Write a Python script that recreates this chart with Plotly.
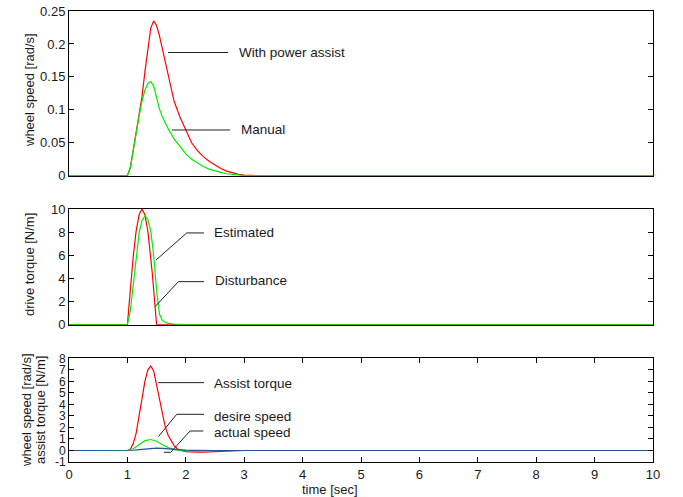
import plotly.graph_objects as go

# ---------------- data ----------------
# top panel: wheel speed [rad/s]
t_assist = [0, 0.9, 1.0, 1.05, 1.10, 1.15, 1.20, 1.25, 1.30, 1.35, 1.40, 1.45, 1.50, 1.55,
            1.60, 1.65, 1.70, 1.75, 1.80, 1.90, 2.00, 2.10, 2.20, 2.30, 2.40, 2.50, 2.60,
            2.70, 2.80, 2.90, 3.00, 3.20, 10]
v_assist = [0, 0, 0, 0.012, 0.040, 0.066, 0.090, 0.120, 0.158, 0.195, 0.224, 0.235, 0.228, 0.212,
            0.192, 0.171, 0.151, 0.131, 0.113, 0.089, 0.069, 0.050, 0.038, 0.029, 0.022, 0.016,
            0.011, 0.007, 0.004, 0.002, 0.001, 0, 0]

t_manual = [0, 0.9, 1.0, 1.05, 1.10, 1.15, 1.20, 1.25, 1.30, 1.35, 1.40, 1.45, 1.50, 1.55,
            1.60, 1.70, 1.80, 1.90, 2.00, 2.10, 2.20, 2.30, 2.40, 2.50, 2.60, 2.70, 2.80,
            3.00, 10]
v_manual = [0, 0, 0, 0.012, 0.040, 0.066, 0.090, 0.113, 0.130, 0.140, 0.143, 0.136, 0.119, 0.101,
            0.089, 0.071, 0.056, 0.044, 0.033, 0.025, 0.019, 0.014, 0.010, 0.007, 0.005, 0.003,
            0.002, 0, 0]

# middle panel: drive torque [N/m]
t_dist = [0, 1.0, 1.025, 1.05, 1.075, 1.10, 1.15, 1.20, 1.25, 1.30, 1.35, 1.40, 1.425,
          1.45, 1.475, 1.50, 10]
v_dist = [0, 0, 1.5, 3.0, 4.5, 5.9, 8.1, 9.5, 10.0, 9.5, 8.1, 5.9, 4.5,
          3.0, 1.5, 0, 0]

t_est = [0, 1.0, 1.05, 1.10, 1.15, 1.20, 1.25, 1.30, 1.35, 1.40, 1.45, 1.50, 1.55,
         1.60, 1.65, 1.70, 1.80, 2.00, 10]
v_est = [0, 0, 1.2, 3.6, 6.0, 7.9, 9.0, 9.4, 9.1, 8.1, 6.0, 3.0, 0.9,
         0.35, 0.2, 0.12, 0.05, 0.01, 0]

# bottom panel: assist torque [N/m], wheel speeds [rad/s]
t_torque = [0, 1.0, 1.05, 1.10, 1.15, 1.20, 1.25, 1.30, 1.35, 1.40, 1.45, 1.50, 1.55, 1.60,
            1.65, 1.70, 1.75, 1.80, 1.85, 1.90, 2.00, 2.10, 2.20, 2.30, 2.40, 2.60, 2.80,
            3.00, 10]
v_torque = [0, 0, 0.1, 0.6, 1.5, 2.9, 4.6, 6.0, 7.0, 7.33, 6.9, 5.7, 4.3, 3.0,
            2.0, 1.3, 0.8, 0.42, 0.17, 0.02, -0.1, -0.14, -0.15, -0.14, -0.12, -0.07, -0.03,
            0, 0]

t_desire = [0, 1.0, 1.1, 1.2, 1.3, 1.4, 1.5, 1.6, 1.7, 1.8, 1.9, 2.0, 2.3, 2.6, 10]
v_desire = [0, 0, 0.15, 0.5, 0.85, 0.95, 0.8, 0.5, 0.25, 0.08, 0, -0.03, -0.03, 0, 0]

t_actual = [0, 1.0, 1.1, 1.2, 1.3, 1.4, 1.5, 1.6, 1.7, 1.8, 1.9, 2.0, 2.2, 2.5, 10]
v_actual = [0, 0, 0.02, 0.07, 0.13, 0.18, 0.20, 0.19, 0.15, 0.10, 0.06, 0.03, 0.01, 0, 0]

x_ticks = [0, 1, 2, 3, 4, 5, 6, 7, 8, 9, 10]
y1_ticks = [0, 0.05, 0.1, 0.15, 0.2, 0.25]
y2_ticks = [0, 2, 4, 6, 8, 10]
y3_ticks = [-1, 0, 1, 2, 3, 4, 5, 6, 7, 8]
y3_labels = ["-1", "0", "1", "2", "3", "4", "5", "6", "7", "8"]

RED, GREEN, BLUE = "#ff0000", "#00ee00", "#2850a0"
FONT = "Liberation Sans, Arial, Helvetica, sans-serif"
LW = 1.2

fig = go.Figure()


def line(t, v, color, xa, ya):
    fig.add_trace(go.Scatter(x=t, y=v, mode="lines", line=dict(color=color, width=LW),
                             xaxis=xa, yaxis=ya, showlegend=False, hoverinfo="skip"))


line(t_assist, v_assist, RED, "x", "y")
line(t_manual, v_manual, GREEN, "x", "y")
line(t_dist, v_dist, RED, "x2", "y2")
line(t_est, v_est, GREEN, "x2", "y2")
line(t_torque, v_torque, RED, "x3", "y3")
line(t_desire, v_desire, GREEN, "x3", "y3")
line(t_actual, v_actual, BLUE, "x3", "y3")

tickfont = dict(family=FONT, size=13, color="#1a1a1a")
xbase = dict(range=[0, 10], showline=True, linecolor="black", linewidth=1, mirror=True,
             showgrid=False, zeroline=False, layer="below traces", automargin=False)
ybase = dict(showline=True, linecolor="black", linewidth=1, mirror="allticks",
             ticks="inside", ticklen=5, tickcolor="black", tickwidth=1,
             showgrid=False, zeroline=False, tickfont=tickfont, automargin=False)

fig.update_layout(
    template="none",
    width=683, height=497,
    margin=dict(l=69, r=30, t=11, b=35, pad=0),
    paper_bgcolor="white", plot_bgcolor="white",
    font=dict(family=FONT, size=13, color="#1a1a1a"),
    xaxis=dict(xbase, domain=[0, 1], anchor="y", showticklabels=False, ticks=""),
    xaxis2=dict(xbase, domain=[0, 1], anchor="y2", showticklabels=False, ticks=""),
    xaxis3=dict(xbase, domain=[0, 1], anchor="y3", ticks="inside", ticklen=5,
                tickcolor="black", mirror="allticks", tickvals=x_ticks, tickfont=tickfont),
    yaxis=dict(ybase, domain=[0.6348, 1.0], range=[0, 0.25], tickvals=y1_ticks, anchor="x"),
    yaxis2=dict(ybase, domain=[0.3044, 0.561], range=[0, 10], tickvals=y2_ticks, anchor="x2"),
    yaxis3=dict(ybase, domain=[0, 0.2299], range=[-1, 8], tickvals=y3_ticks,
                ticktext=y3_labels, anchor="x3", tickfont=dict(tickfont, size=12)),
)

LEAD = dict(color="#222222", width=1)
# leader lines: (xref, yref, list of points)
leaders = [
    ("x", "y", [(1.696, 0.187), (2.724, 0.187)]),
    ("x", "y", [(1.76, 0.0694), (2.758, 0.0694)]),
    ("x2", "y2", [(1.49, 5.59), (2.016, 7.93), (2.313, 7.93)]),
    ("x2", "y2", [(1.473, 1.56), (1.873, 3.72), (2.313, 3.72)]),
    ("x3", "y3", [(1.53, 5.89), (2.313, 5.89)]),
    ("x3", "y3", [(1.53, 1.20), (1.845, 3.14), (2.313, 3.14)]),
    ("x3", "y3", [(1.628, -0.16), (1.742, -0.16), (2.073, 1.69), (2.30, 1.69)]),
]
for xr, yr, pts in leaders:
    path = "M " + " L ".join(f"{a},{b}" for a, b in pts)
    fig.add_shape(type="path", path=path, xref=xr, yref=yr, line=LEAD)

labels = [
    ("x", "y", 2.878, 0.187, "With power assist"),
    ("x", "y", 2.912, 0.0694, "Manual"),
    ("x2", "y2", 2.445, 7.93, "Estimated"),
    ("x2", "y2", 2.47, 3.80, "Disturbance"),
    ("x3", "y3", 2.455, 5.85, "Assist torque"),
    ("x3", "y3", 2.455, 2.93, "desire speed"),
    ("x3", "y3", 2.455, 1.545, "actual speed"),
]
for xr, yr, xv, yv, txt in labels:
    fig.add_annotation(x=xv, y=yv, xref=xr, yref=yr, text=txt, showarrow=False,
                       xanchor="left", yanchor="middle",
                       font=dict(family=FONT, size=13.5, color="#1a1a1a"))

# axis titles
def px_x(p):
    return (p - 69) / 584.0


def px_y(p):
    return (462 - p) / 451.0


for xp, yp, txt in [(29, 90, "wheel speed [rad/s]"), (29, 265, "drive torque [N/m]"),
                    (26, 410, "wheel speed [rad/s]"), (40, 410, "assist torque [N/m]")]:
    fig.add_annotation(x=px_x(xp), y=px_y(yp), xref="paper", yref="paper", text=txt,
                       textangle=-90, showarrow=False, xanchor="center", yanchor="middle",
                       font=dict(family=FONT, size=13, color="#1a1a1a"))

fig.add_annotation(x=px_x(330), y=px_y(489), xref="paper", yref="paper", text="time [sec]",
                   showarrow=False, xanchor="center", yanchor="middle",
                   font=dict(family=FONT, size=13, color="#1a1a1a"))

fig.write_html("out.html")
